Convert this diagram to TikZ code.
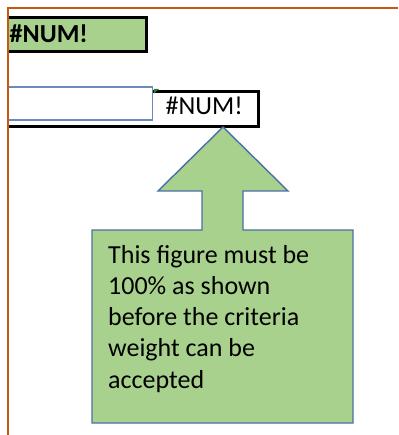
\documentclass[tikz,border=0pt]{standalone}
\usepackage{fontspec}
\setmainfont{Carlito}
\usetikzlibrary{positioning,calc}
\definecolor{cellgreen}{HTML}{A9D18E}
\definecolor{sheetorange}{HTML}{C55A11}
\definecolor{selblue}{HTML}{6A8AC0}
\definecolor{calloutblue}{HTML}{4A6FA5}
\definecolor{flaggreen}{HTML}{2E7D32}
\newcommand{\cellsize}{\fontsize{26}{31.2}\selectfont}
\tikzset{
  cell/.style={draw=black, line width=3pt, inner sep=0pt, anchor=north west},
}

\begin{document}
\begin{tikzpicture}[
  x=1pt, y=-1pt,
  every node/.style={font=\cellsize, inner sep=0pt},
  callout/.style={fill=cellgreen, draw=calloutblue, line width=1.4pt, line join=miter}
]
\useasboundingbox (0,0) rectangle (398,435);

% Cells
\begin{scope}
\clip (7.5,0) rectangle (398,435);
\node[cell, fill=cellgreen, minimum width=140.5pt, minimum height=34pt] (total) at (4,16.5) {};
\node[anchor=base west, font=\cellsize\bfseries] (totalval) at (9.5,43) {\#NUM!};

\node[cell, fill=white, minimum width=252.5pt, minimum height=35.5pt] (check) at (4,90) {};
\node[draw=selblue, line width=1.4pt, fill=white, anchor=north west,
      minimum width=147pt, minimum height=33pt] (sel) at (4.5,86.5) {};
\node[anchor=base west] (checkval) at (165.5,115) {\#NUM!};
\fill[flaggreen] (sel.north east) ++(1,2.5) coordinate (flag)
  -- ++(5,0) -- ++(-5,4.5) -- cycle;
\end{scope}

% Callout
\draw[callout] (223,127) coordinate (tip)
  -- (288,191) -- (243,191) -- (243,230) -- (353,230) -- (353,423)
  -- (92,423) -- (92,230) -- (202,230) -- (202,191) -- (158,191) -- cycle;
\node[anchor=north west, align=left] (note) at (108,245)
  {This figure must be\\100\% as shown\\before the criteria\\weight can be\\accepted};

% Sheet border
\draw[sheetorange, line width=2pt] (7.5,435) -- (7.5,8) -- (398,8);

\end{tikzpicture}
\end{document}
